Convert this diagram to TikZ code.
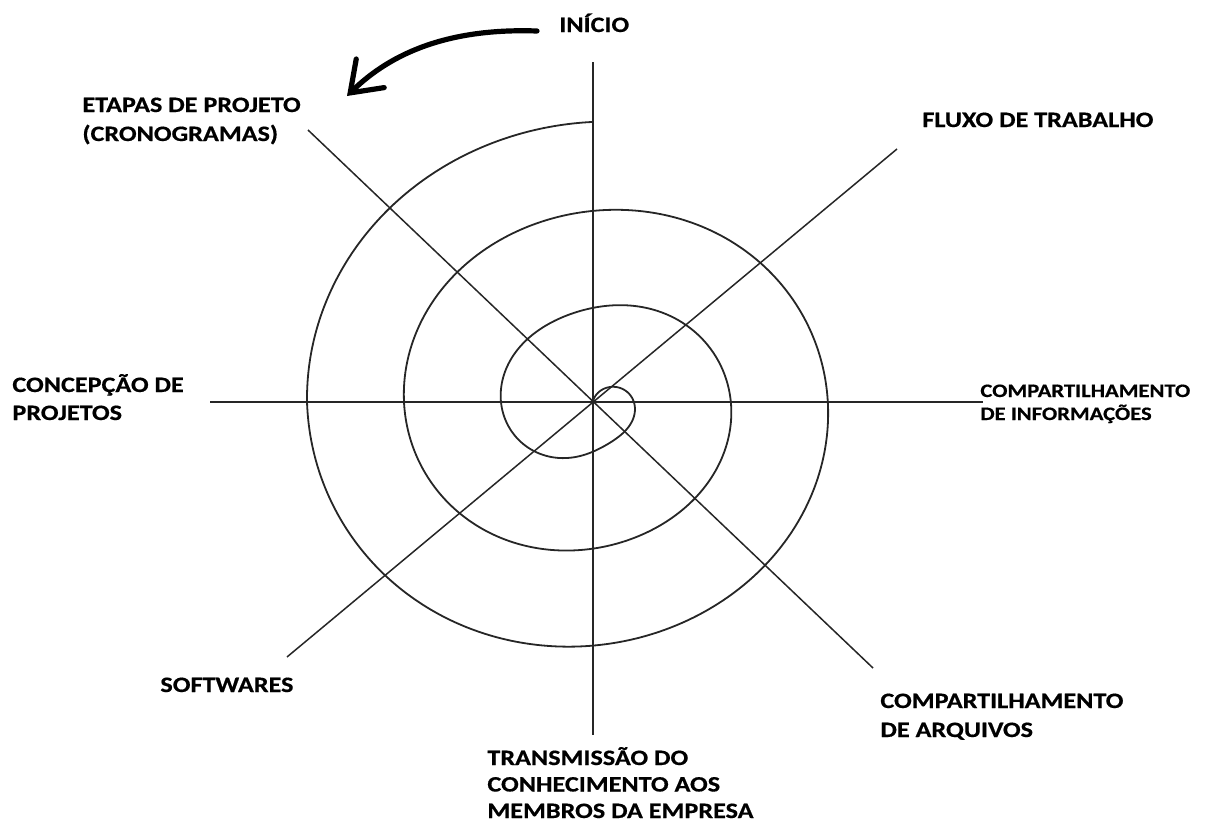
\documentclass[tikz,border=0pt]{standalone}
\usepackage{fontspec}
\setmainfont{Carlito}[FakeStretch=1.19,BoldFeatures={FakeBold=0.6}]
\usetikzlibrary{arrows.meta}
\begin{document}
\begin{tikzpicture}[x=0.5pt,y=-0.5pt,
  axis/.style={draw=black!85,line width=0.75pt},
  spir/.style={draw=black!85,line width=0.9pt},
  lbl/.style={anchor=base west,inner sep=0pt,align=left,font=\bfseries\fontsize{11}{14.5}\selectfont}]
\useasboundingbox (0,0) rectangle (1216,825);
\coordinate (C) at (593,402);
\coordinate (N) at (593,62);
\coordinate (S) at (593,735);
\coordinate (W) at (210,402);
\coordinate (E) at (983,402);
\coordinate (NE) at (897,149);
\coordinate (SW) at (287,657);
\coordinate (NW) at (308,130);
\coordinate (SE) at (873,668);
\draw[axis] (N) -- (S);
\draw[axis] (W) -- (E);
\draw[axis] (NE) -- (SW);
\draw[axis] (NW) -- (SE);
\begin{scope}[shift={(593,402)}]
\draw[spir] plot[smooth,domain=90:1161,samples=500,variable=\t]
  ({-\t}:{280-0.2694*(\t-90)+19.5-1.33*cos(\t)-2*sin(\t)+9.4*cos(2*\t)+2.2*sin(2*\t)-8*max(0,1-(\t-90)/90)});
\end{scope}
\coordinate (aS) at (537,31);
\coordinate (aE) at (347,96);
\draw[line width=2.6pt,line cap=round,-{Straight Barb[length=14pt,width=20pt,line cap=round]}] (aS) .. controls (450,28) and (392,52) .. (aE);
\node[lbl] (inicio) at (559,32) {INÍCIO};
\node[lbl] (etapas) at (82,141) {ETAPAS DE PROJETO\\(CRONOGRAMAS)};
\node[lbl] (fluxo) at (922,127) {FLUXO DE TRABALHO};
\node[lbl,font=\bfseries\fontsize{11}{14}\selectfont] (concep) at (12,420) {CONCEPÇÃO DE\\PROJETOS};
\node[lbl,font=\bfseries\fontsize{9.5}{11.5}\selectfont] (compinf) at (980,420) {COMPARTILHAMENTO\\DE INFORMAÇÕES};
\node[lbl] (softw) at (160,692) {SOFTWARES};
\node[lbl] (comparq) at (880,737) {COMPARTILHAMENTO\\DE ARQUIVOS};
\node[lbl,font=\bfseries\fontsize{11}{13.25}\selectfont] (transm) at (487,818) {TRANSMISSÃO DO\\CONHECIMENTO AOS\\MEMBROS DA EMPRESA};
\end{tikzpicture}
\end{document}
